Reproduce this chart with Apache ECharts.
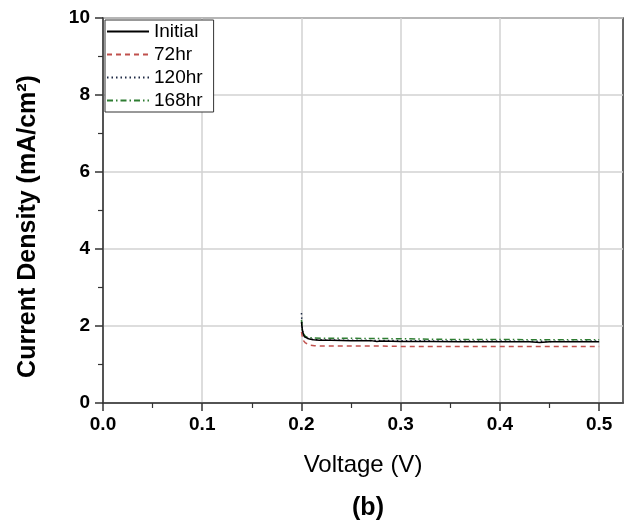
<!DOCTYPE html>
<html>
<head>
<meta charset="utf-8">
<script src="https://cdn.jsdelivr.net/npm/echarts@6/dist/echarts.min.js"></script>
<style>html,body{margin:0;padding:0;background:#fff}#c{width:629px;height:522px}</style>
</head>
<body>
<div id="c"></div>
<script>
// ---- data ----
const seriesNames = ['Initial', '72hr', '120hr', '168hr'];

const initialV = [0.200,0.2005,0.201,0.202,0.203,0.205,0.208,0.212,0.218,0.230,0.250,0.270,0.276,0.280,0.300,0.330,0.360,0.400,0.430,0.440,0.450,0.470,0.500];
const initialJ = [2.10,1.98,1.88,1.78,1.72,1.68,1.66,1.64,1.63,1.63,1.62,1.62,1.60,1.61,1.60,1.60,1.59,1.59,1.59,1.57,1.59,1.59,1.59];

const h72V = [0.200,0.201,0.202,0.204,0.206,0.209,0.213,0.220,0.250,0.280,0.300,0.350,0.400,0.450,0.500];
const h72J = [1.85,1.70,1.62,1.56,1.52,1.50,1.49,1.48,1.48,1.48,1.47,1.47,1.47,1.47,1.47];

const h120V = [0.200,0.2005,0.201,0.202,0.204,0.207,0.212,0.220,0.250,0.300,0.350,0.400,0.450,0.500];
const h120J = [2.34,2.05,1.90,1.78,1.70,1.67,1.65,1.64,1.63,1.62,1.61,1.61,1.60,1.61];

const h168V = [0.200,0.2005,0.201,0.202,0.204,0.207,0.212,0.220,0.250,0.300,0.350,0.400,0.450,0.500];
const h168J = [2.16,2.00,1.88,1.80,1.73,1.70,1.69,1.68,1.68,1.67,1.65,1.65,1.64,1.64];

const xMajorTicks = [0.0, 0.1, 0.2, 0.3, 0.4, 0.5];
const xMinorTicks = [0.05, 0.15, 0.25, 0.35, 0.45];

const xName = 'Voltage (V)';
const yName = 'Current Density (mA/cm²)';
const panelLabel = '(b)';

// ---- build chart ----
const zip = (xs, ys) => xs.map((x, i) => [x, ys[i]]);
const FONT = 'Arial, "Liberation Sans", sans-serif';
const AX = '#333';

const chart = echarts.init(document.getElementById('c'), null, {renderer: 'canvas'});
chart.setOption({
  animation: false,
  backgroundColor: '#fff',
  title: {
    text: panelLabel,
    left: 363, top: 491, textAlign: 'center',
    textStyle: {fontFamily: FONT, fontSize: 25, fontWeight: 'bold', color: '#000'}
  },
  grid: {left: 103, right: 6, top: 18, bottom: 119, show: true, borderColor: AX, borderWidth: 1.5, backgroundColor: 'transparent'},
  legend: {
    orient: 'vertical', left: 105, top: 20,
    data: seriesNames,
    itemWidth: 42, itemHeight: 17, itemGap: 4,
    padding: [2, 11, 2, 1],
    borderColor: AX, borderWidth: 1, backgroundColor: '#fff',
    itemStyle: {opacity: 0},
    textStyle: {fontFamily: FONT, fontSize: 19, color: '#000'}
  },
  xAxis: [{
    type: 'value', min: 0, max: 0.524, interval: 0.1,
    name: xName, nameLocation: 'middle', nameGap: 50,
    nameTextStyle: {fontFamily: FONT, fontSize: 24, color: '#000'},
    axisLine: {show: true, lineStyle: {color: AX, width: 1.5}},
    axisTick: {show: true, inside: false, length: 8, customValues: xMajorTicks, lineStyle: {color: AX, width: 1.5}},
    axisLabel: {customValues: xMajorTicks, margin: 12, formatter: v => v.toFixed(1),
      fontFamily: FONT, fontSize: 19, fontWeight: 'bold', color: '#000'},
    splitLine: {show: true, lineStyle: {color: '#d2d2d2', width: 1.5}}
  }, {
    type: 'value', min: 0, max: 0.524, position: 'bottom',
    axisLine: {show: false},
    axisTick: {show: true, inside: false, length: 5, customValues: xMinorTicks, lineStyle: {color: AX, width: 1.2}},
    axisLabel: {show: false},
    splitLine: {show: false}
  }],
  yAxis: {
    type: 'value', min: 0, max: 10, interval: 2,
    name: yName, nameLocation: 'middle', nameGap: 62, nameRotate: 90,
    nameTextStyle: {fontFamily: FONT, fontSize: 25, fontWeight: 'bold', color: '#000', padding: [0, 32, 0, 0]},
    axisLine: {show: true, lineStyle: {color: AX, width: 1.5}},
    axisTick: {show: true, inside: false, length: 8, lineStyle: {color: AX, width: 1.5}},
    minorTick: {show: true, splitNumber: 2, length: 5, lineStyle: {color: AX, width: 1.2}},
    axisLabel: {margin: 13, fontFamily: FONT, fontSize: 19, fontWeight: 'bold', color: '#000'},
    splitLine: {show: true, lineStyle: {color: '#d2d2d2', width: 1.5}}
  },
  series: [
    {name: seriesNames[0], type: 'line', data: zip(initialV, initialJ), showSymbol: false, symbol: 'none',
     lineStyle: {color: '#000', width: 1.5, type: 'solid'}, itemStyle: {color: '#000'}, z: 5},
    {name: seriesNames[1], type: 'line', data: zip(h72V, h72J), showSymbol: false, symbol: 'none',
     lineStyle: {color: '#c0504d', width: 1.5, type: [5, 4]}, itemStyle: {color: '#c0504d'}, z: 4},
    {name: seriesNames[2], type: 'line', data: zip(h120V, h120J), showSymbol: false, symbol: 'none',
     lineStyle: {color: '#1f2a44', width: 1.5, type: [1.5, 3]}, itemStyle: {color: '#1f2a44'}, z: 3},
    {name: seriesNames[3], type: 'line', data: zip(h168V, h168J), showSymbol: false, symbol: 'none',
     lineStyle: {color: '#2e7d32', width: 1.5, type: [6, 3, 1.5, 3]}, itemStyle: {color: '#2e7d32'}, z: 4}
  ]
});
</script>
</body>
</html>
